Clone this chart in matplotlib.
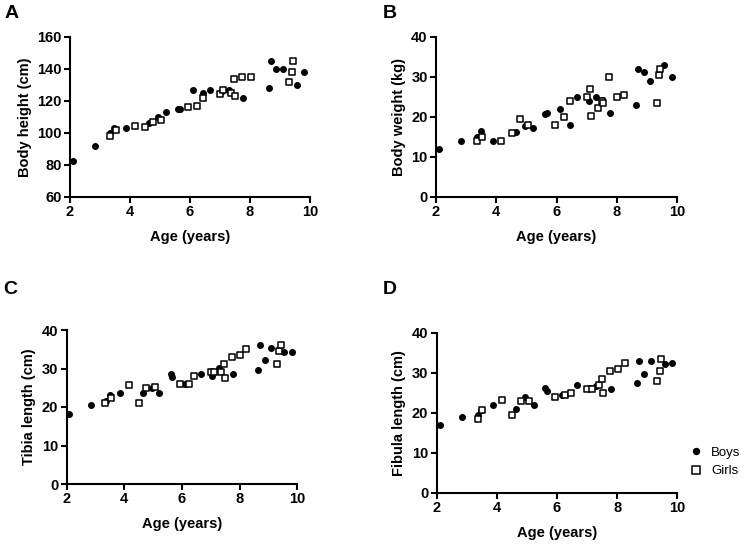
import numpy as np
import matplotlib.pyplot as plt
from matplotlib.lines import Line2D

plt.rcParams['font.family'] = ['Liberation Sans', 'DejaVu Sans']
plt.rcParams['font.weight'] = 'bold'

# A: body height (cm)
boys_age_a = [2.09, 2.82, 3.33, 3.48, 3.87, 4.64, 4.92, 5.2, 5.61, 5.67, 6.09, 6.42, 6.66,
              7.04, 7.11, 7.3, 7.76, 8.63, 8.69, 8.87, 9.1, 9.56, 9.8]
boys_height = [82.7, 91.9, 100, 103.1, 103.1, 106, 110.2, 113.1, 115.2, 115.2, 127.1, 125, 127.1,
               125.4, 127.1, 126.9, 122.1, 128.1, 145, 140, 140, 130.2, 138.1]
girls_age_a = [3.33, 3.52, 4.17, 4.51, 4.78, 5.04, 5.94, 6.24, 6.42, 7.0, 7.11, 7.37, 7.5,
               7.47, 7.73, 8.02, 9.29, 9.39, 9.42]
girls_height = [98.1, 102.1, 104.2, 103.8, 107.1, 108.3, 116, 117.1, 122.1, 124.4, 127.1, 125, 123.3,
                134, 135, 135, 132.1, 138.1, 145.2]

# B: body weight (kg)
boys_age_b = [2.11, 2.83, 3.36, 3.5, 3.89, 4.66, 4.96, 5.23, 5.63, 5.69, 6.11, 6.44, 6.68,
              7.08, 7.31, 7.5, 7.78, 8.64, 8.72, 8.89, 9.11, 9.58, 9.82]
boys_weight = [12, 14, 15, 16.5, 14, 16.3, 17.8, 17.25, 20.7, 21, 22, 18, 25,
               24, 25, 24.3, 21, 23, 32, 31.2, 29, 33, 30]
girls_age_b = [3.36, 3.54, 4.17, 4.52, 4.78, 5.06, 5.94, 6.26, 6.44, 7.02, 7.11, 7.14, 7.38,
               7.51, 7.53, 7.74, 8.02, 8.24, 9.32, 9.4, 9.43]
girls_weight = [14, 15, 14, 16, 19.5, 18, 18, 20, 24, 25, 27, 20.25, 22.3,
                24, 23.5, 30, 25, 25.5, 23.4, 30.5, 32]

# C: tibia length (cm)
boys_age_c = [2.09, 2.83, 3.35, 3.49, 3.86, 4.64, 4.95, 5.2, 5.61, 5.66, 6.12, 6.66, 7.05,
              7.3, 7.76, 8.62, 8.69, 8.87, 9.09, 9.55, 9.8]
boys_tibia = [18.1, 20.6, 21.6, 23, 23.6, 23.6, 25, 23.6, 28.7, 27.7, 26.1, 28.7, 28,
              30.1, 28.6, 29.6, 36, 32.1, 35.2, 34.2, 34.2]
girls_age_c = [3.34, 3.53, 4.16, 4.51, 4.76, 5.05, 5.94, 6.24, 6.43, 6.99, 7.12, 7.36, 7.47,
               7.49, 7.73, 8.02, 8.23, 9.29, 9.38, 9.42]
girls_tibia = [21, 22.4, 25.7, 21.1, 25, 25.1, 26.1, 26.1, 28.1, 29.1, 29.1, 29.2, 31.1,
               27.6, 33, 33.6, 35, 31.1, 34.5, 36.1]

# D: fibula length (cm)
boys_age_d = [2.1, 2.83, 3.37, 3.48, 3.88, 4.64, 4.94, 5.22, 5.61, 5.68, 6.17, 6.68, 7.11,
              7.31, 7.79, 8.66, 8.72, 8.9, 9.12, 9.58, 9.83]
boys_fibula = [17, 19, 19.5, 20.7, 21.9, 21, 24, 21.9, 26.1, 25.5, 24.5, 27, 26.1,
               26.7, 26, 27.5, 33, 29.7, 33, 32.2, 32.4]
girls_age_d = [3.36, 3.52, 4.17, 4.52, 4.79, 5.06, 5.94, 6.27, 6.46, 7.01, 7.17, 7.39, 7.49,
               7.52, 7.76, 8.04, 8.26, 9.33, 9.42, 9.46]
girls_fibula = [18.4, 20.7, 23.2, 19.4, 23, 23, 23.9, 24.4, 25, 26, 26, 26.9, 28.4,
                25, 30.5, 30.9, 32.4, 28, 30.5, 33.4]

fig = plt.figure(figsize=(7.47, 5.5), dpi=100)

W, H = 747, 550
def box(x0, x1, y0, y1):
    return [x0 / W, 1 - y1 / H, (x1 - x0) / W, (y1 - y0) / H]

panels = [
    ('A', box(70, 310, 37, 197), boys_age_a, boys_height, girls_age_a, girls_height,
     'Body height (cm)', (60, 160), np.arange(60, 161, 20), (5, 13)),
    ('B', box(436, 677, 37, 197), boys_age_b, boys_weight, girls_age_b, girls_weight,
     'Body weight (kg)', (0, 40), np.arange(0, 41, 10), (383, 13)),
    ('C', box(66.7, 297.3, 330, 484), boys_age_c, boys_tibia, girls_age_c, girls_tibia,
     'Tibia length (cm)', (0, 40), np.arange(0, 41, 10), (3, 290)),
    ('D', box(436.7, 677.3, 332.7, 493), boys_age_d, boys_fibula, girls_age_d, girls_fibula,
     'Fibula length (cm)', (0, 40), np.arange(0, 41, 10), (383, 290)),
]

for letter, rect, bx, by, gx, gy, ylab, ylim, yt, lpos in panels:
    ax = fig.add_axes(rect)
    ax.scatter(bx, by, s=16, color='black', marker='o', zorder=3, clip_on=False)
    ax.scatter(gx, gy, s=24, facecolor='white', edgecolor='black', linewidths=1.1,
               marker='s', zorder=4, clip_on=False)
    ax.set_xlim(2, 10)
    ax.set_ylim(*ylim)
    ax.set_xticks(np.arange(2, 11, 2))
    ax.set_yticks(yt)
    ax.spines['top'].set_visible(False)
    ax.spines['right'].set_visible(False)
    for s in ('left', 'bottom'):
        ax.spines[s].set_linewidth(1.5)
    ax.tick_params(width=1.5, length=4, labelsize=10.5, pad=2)
    for lab in ax.get_xticklabels() + ax.get_yticklabels():
        lab.set_fontweight('bold')
    ax.set_xlabel('Age (years)', fontsize=10.5, fontweight='bold', labelpad=8)
    ax.set_ylabel(ylab, fontsize=10.5, fontweight='bold', labelpad=4)
    fig.text(lpos[0] / W, 1 - lpos[1] / H, letter, fontsize=14, fontweight='bold',
             ha='left', va='center')

handles = [
    Line2D([], [], marker='o', linestyle='none', color='black', markersize=4.3),
    Line2D([], [], marker='s', linestyle='none', markerfacecolor='white',
           markeredgecolor='black', markeredgewidth=1.1, markersize=5.5),
]
fig.legend(handles, ['Boys', 'Girls'], loc='center left', bbox_to_anchor=(690 / W, 1 - 462 / H),
           frameon=False, borderpad=0, borderaxespad=0, handletextpad=0.7,
           labelspacing=0.45, handlelength=0.9, prop={'size': 9.5, 'weight': 'normal'})

fig.savefig('out.png', dpi=100)
